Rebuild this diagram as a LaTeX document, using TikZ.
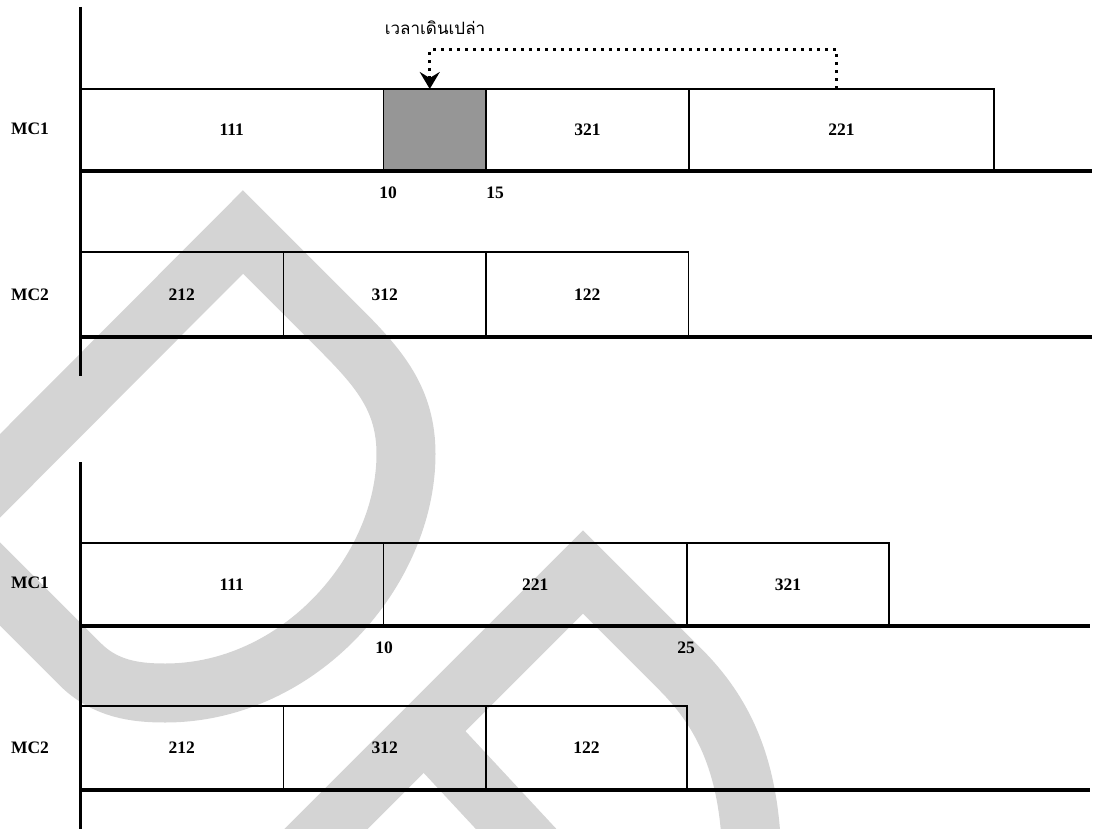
\documentclass[tikz,border=0pt]{standalone}
\usepackage{fontspec}
\setmainfont{Liberation Serif}
\newfontfamily\thaifont[Script=Thai]{Loma}
\usetikzlibrary{arrows.meta,calc}
\definecolor{wmgray}{RGB}{212,212,212}
\definecolor{idlegray}{RGB}{150,150,150}

\begin{document}
\begin{tikzpicture}[x=1pt,y=-1pt,
  job/.style={draw=black, line width=1.4pt, anchor=north west, inner sep=0pt,
    outer sep=0pt, font=\bfseries\fontsize{17.5}{20}\selectfont},
  idlebox/.style={job, fill=idlegray},
  lbl/.style={font=\bfseries\fontsize{17.5}{20}\selectfont, inner sep=0pt},
  axisline/.style={line width=3pt},
  baseline/.style={line width=4pt},
  idlearrow/.style={line width=3pt, dash pattern=on 3pt off 5pt,
    -{Stealth[length=17pt,width=20pt,inset=6pt]}},
  watermark/.style={draw=wmgray, line width=59pt, line join=miter}
]
\useasboundingbox (0,0) rectangle (1097,829);

% background watermark strokes
\begin{scope}
\clip (0,0) rectangle (1097,829);
\draw[watermark] (-54,530) -- (243,232) -- (340,329)
  .. controls (380,369) and (406,400) .. (406,454)
  .. controls (406,570) and (300,693) .. (165,693)
  .. controls (135,693) and (105,689) .. (80,664) -- cycle;
\draw[watermark] (296,859) -- (583,572) -- (680,669)
  .. controls (725,714) and (752,770) .. (752,870);
\draw[watermark] (425,731) -- (545,860);
\end{scope}

% ---------- upper schedule ----------
\coordinate (ax1top) at (80,7);
\coordinate (ax1bot) at (80,376);
\coordinate (b1a) at (80,171.5);  \coordinate (b1b) at (1092,171.5);
\coordinate (b2a) at (80,337);    \coordinate (b2b) at (1092,337);

\node[job, minimum width=303.5pt, minimum height=82pt] (u111) at (80,89) {111};
\node[idlebox, minimum width=102.5pt, minimum height=82pt] (idle) at (383.5,89) {};
\node[job, minimum width=203pt, minimum height=82pt] (u321) at (486,89) {321};
\node[job, minimum width=305pt, minimum height=82pt] (u221) at (689,89) {221};

\node[job, minimum width=203.5pt, minimum height=85pt] (u212) at (80,252) {212};
\node[job, minimum width=202.5pt, minimum height=85pt] (u312) at (283.5,252) {312};
\node[job, minimum width=202.5pt, minimum height=85pt] (u122) at (486,252) {122};

\draw[baseline] (b1a) -- (b1b);
\draw[baseline] (b2a) -- (b2b);
\draw[axisline] (ax1top) -- (ax1bot);

\node[lbl] (umc1) at (30,129) {MC1};
\node[lbl] (umc2) at (30,295) {MC2};
\node[lbl] (ut10) at (388,193) {10};
\node[lbl] (ut15) at (495,193) {15};

\node[font=\thaifont\fontsize{17}{20}\selectfont, anchor=base, inner sep=0pt]
  (idlelbl) at (435,35) {เวลาเดินเปล่า};
\draw[idlearrow] ([xshift=-5pt]u221.north) -- ++(0,-39) -| ([xshift=-5pt]idle.north);

% ---------- lower schedule ----------
\coordinate (ax2top) at (80,462);
\coordinate (ax2bot) at (80,829);
\coordinate (b3a) at (80,626);  \coordinate (b3b) at (1090,626);
\coordinate (b4a) at (80,790);  \coordinate (b4b) at (1090,790);

\node[job, minimum width=303.5pt, minimum height=83pt] (l111) at (80,543) {111};
\node[job, minimum width=303.5pt, minimum height=83pt] (l221) at (383.5,543) {221};
\node[job, minimum width=202pt, minimum height=83pt] (l321) at (687,543) {321};

\node[job, minimum width=203.5pt, minimum height=84pt] (l212) at (80,706) {212};
\node[job, minimum width=202.5pt, minimum height=84pt] (l312) at (283.5,706) {312};
\node[job, minimum width=201pt, minimum height=84pt] (l122) at (486,706) {122};

\draw[baseline] (b3a) -- (b3b);
\draw[baseline] (b4a) -- (b4b);
\draw[axisline] (ax2top) -- (ax2bot);

\node[lbl] (lmc1) at (30,583) {MC1};
\node[lbl] (lmc2) at (30,748) {MC2};
\node[lbl] (lt10) at (384,648) {10};
\node[lbl] (lt25) at (686,648) {25};
\end{tikzpicture}
\end{document}
